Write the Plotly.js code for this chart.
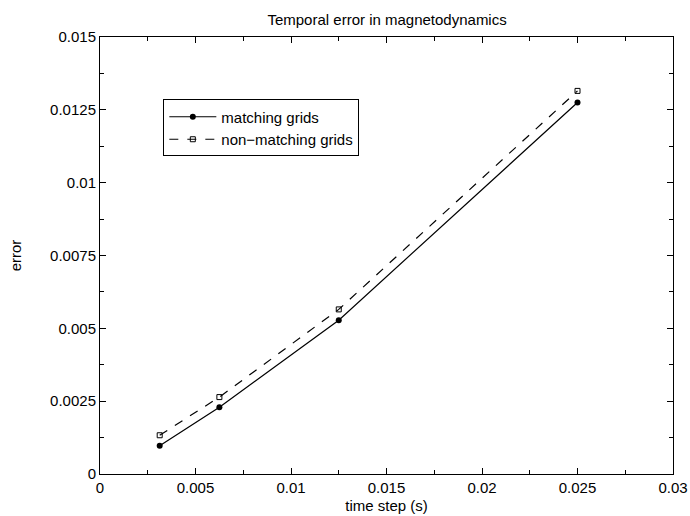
<!DOCTYPE html>
<html>
<head>
<meta charset="utf-8">
<script src="https://cdn.plot.ly/plotly-3.0.1.min.js"></script>
<style>html,body{margin:0;padding:0;background:#fff}#chart{width:690px;height:516px}</style>
</head>
<body>
<div id="chart"></div>
<script>
var timeSteps = [0.003125, 0.00625, 0.0125, 0.025];
var matchingErr = [0.00097, 0.00229, 0.00528, 0.01275];
var nonMatchingErr = [0.00133, 0.00264, 0.00565, 0.01315];
var xTickVals = [0, 0.005, 0.01, 0.015, 0.02, 0.025, 0.03];
var xTickText = ["0", "0.005", "0.01", "0.015", "0.02", "0.025", "0.03"];
var yTickVals = [0, 0.0025, 0.005, 0.0075, 0.01, 0.0125, 0.015];
var yTickText = ["0", "0.0025", "0.005", "0.0075", "0.01", "0.0125", "0.015"];

var FONT = "Liberation Sans, Arial, sans-serif";

var traces = [
  {x: timeSteps, y: matchingErr, name: "matching grids", mode: "lines+markers",
   line: {color: "#000", width: 1.2, dash: "solid"},
   marker: {symbol: "circle", size: 6, color: "#000"}},
  {x: timeSteps, y: nonMatchingErr, name: "non\u2212matching grids", mode: "lines+markers",
   line: {color: "#000", width: 1.2, dash: "dash"},
   marker: {symbol: "square-open", size: 5, color: "#000", line: {width: 1, color: "#000"}}}
];

var axisCommon = {
  showgrid: false, zeroline: false, showline: true, linecolor: "#000", linewidth: 1,
  mirror: "ticks", ticks: "inside", ticklen: 6, tickcolor: "#000", tickwidth: 1,
  tickfont: {family: FONT, size: 15, color: "#000"}
};

var layout = {
  width: 690, height: 516,
  margin: {l: 100, r: 17, t: 37, b: 42},
  paper_bgcolor: "#fff", plot_bgcolor: "#fff",
  font: {family: FONT, size: 15, color: "#000"},
  title: {text: "Temporal error in magnetodynamics", x: 0.561, xanchor: "center", y: 0.962, yanchor: "middle",
          font: {family: FONT, size: 15, color: "#000"}},
  xaxis: Object.assign({}, axisCommon, {
    range: [0, 0.03], tickvals: xTickVals, ticktext: xTickText,
    minor: {ticks: "inside", ticklen: 4, dtick: 0.0025, tick0: 0, tickcolor: "#000"},
    title: {text: "time step (s)", standoff: 5, font: {family: FONT, size: 15, color: "#000"}}
  }),
  yaxis: Object.assign({}, axisCommon, {
    range: [0, 0.015], tickvals: yTickVals, ticktext: yTickText,
    minor: {ticks: "inside", ticklen: 4, dtick: 0.00125, tick0: 0, tickcolor: "#000"},
    title: {text: "error", standoff: 24, font: {family: FONT, size: 15, color: "#000"}}
  }),
  showlegend: true,
  legend: {x: 0.1105, y: 0.857, xanchor: "left", yanchor: "top",
           bordercolor: "#000", borderwidth: 1, bgcolor: "#fff",
           font: {family: FONT, size: 15, color: "#000"},
           tracegroupgap: 0, itemwidth: 47}
};

Plotly.newPlot("chart", traces, layout, {displayModeBar: false, staticPlot: true});
</script>
</body>
</html>
